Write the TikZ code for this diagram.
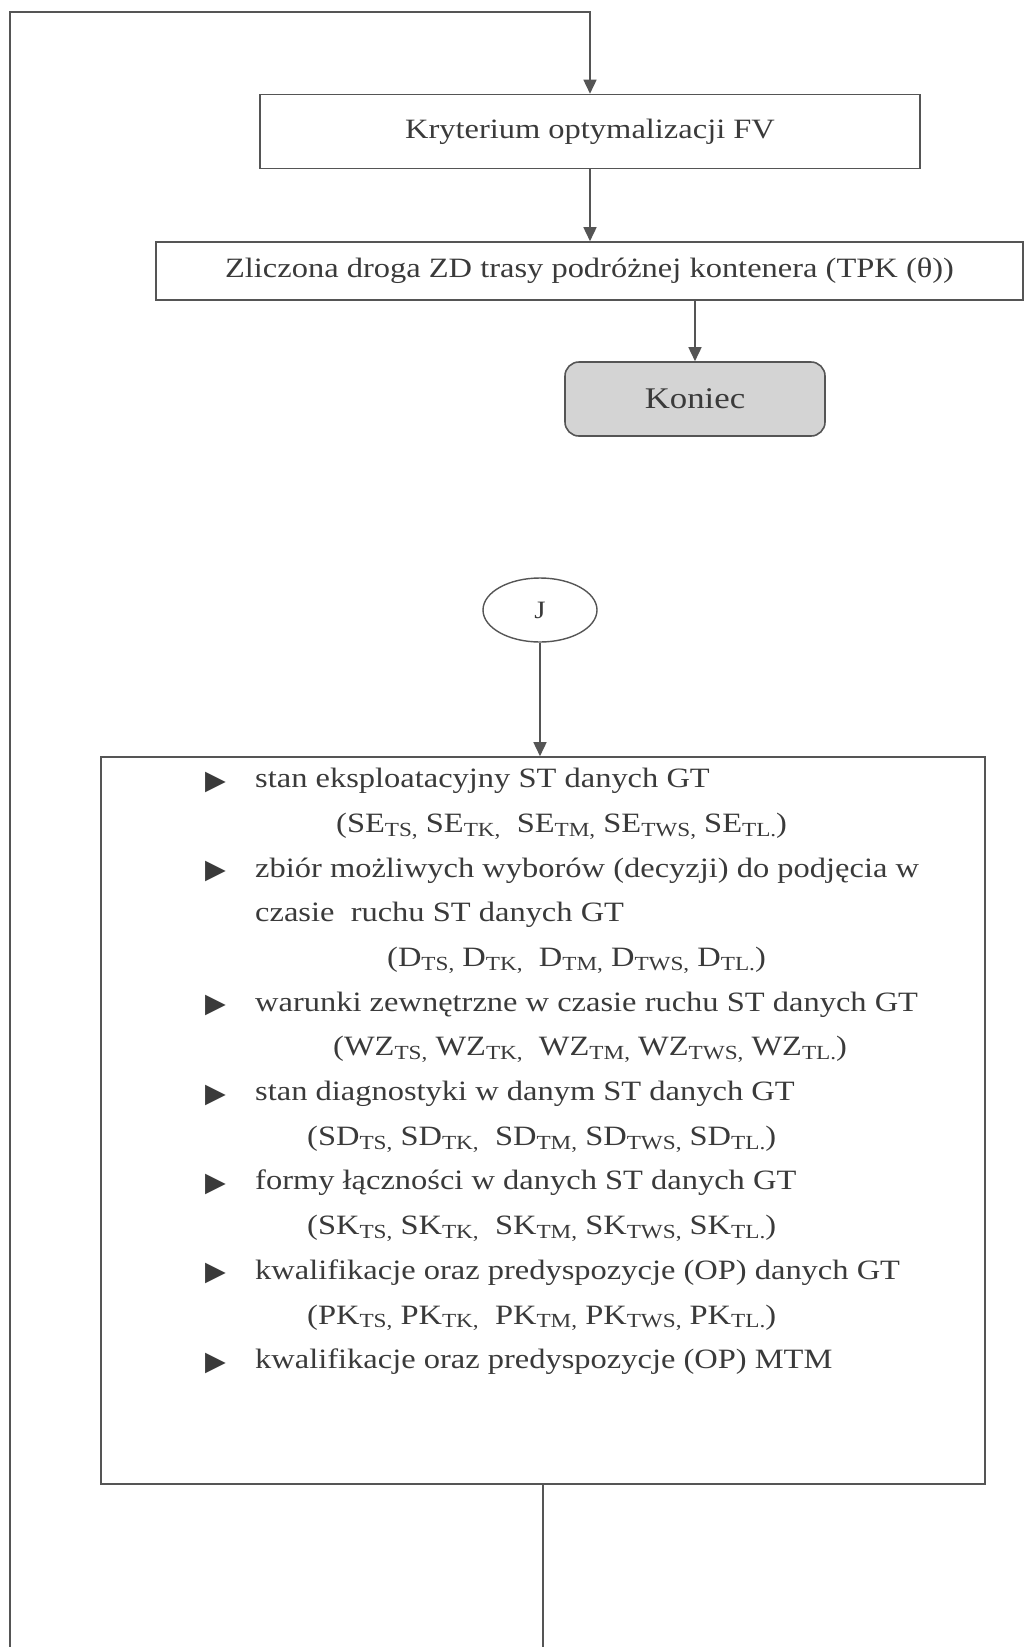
\documentclass[tikz,border=0pt]{standalone}
\usepackage{fontspec}
\setmainfont[FakeStretch=1.16]{Liberation Serif}
\newfontfamily\symfont{DejaVu Sans}
\usetikzlibrary{arrows.meta,shapes.geometric}

\definecolor{inkgray}{HTML}{3A3A3A}
\definecolor{linegray}{HTML}{555555}
\definecolor{endfill}{HTML}{D4D4D4}

\newcommand{\lowidx}[1]{\raisebox{-0.3ex}{\fontsize{20}{20}\selectfont #1}}
\newcommand{\tri}{\makebox[50pt][l]{\raisebox{-1.5pt}{\symfont\fontsize{27}{27}\selectfont ▶}}}

\begin{document}
\begin{tikzpicture}[x=1pt,y=-1pt,>={Triangle[length=14pt,width=13pt]},
  line/.style={draw=linegray,line width=1.6pt},
  procbox/.style={draw=linegray,line width=1.6pt,rectangle,inner sep=0pt,text=inkgray,font=\fontsize{28}{34}\selectfont},
  endbox/.style={procbox,rounded corners=14pt,fill=endfill,font=\fontsize{30}{34}\selectfont},
  connector/.style={draw=linegray,line width=1.4pt,ellipse,inner sep=0pt,minimum width=114pt,minimum height=64pt,text=inkgray,font=\fontsize{25}{28}\selectfont},
  listtext/.style={align=left,inner sep=0pt,text=inkgray,font=\fontsize{28}{44.7}\selectfont}]
\useasboundingbox (0,0) rectangle (1026,1647);

% upper part
\node[procbox,minimum width=660pt,minimum height=74pt] (crit) at (590,131.5) {Kryterium optymalizacji FV};
\node[procbox,minimum width=867pt,minimum height=58pt] (path) at (589.5,271) {Zliczona droga ZD trasy podróżnej kontenera (TPK (θ))};
\node[endbox,minimum width=260pt,minimum height=74pt] (end) at (695,399) {Koniec};

% connector J and parameter box
\node[connector] (J) at (540,610) {J};
\node[procbox,minimum width=884pt,minimum height=727pt] (params) at (543,1120.5) {};
\node[listtext,anchor=north west] (paramtext) at (205,768) {%
\tri stan eksploatacyjny ST danych GT\\
\hspace*{131pt}(SE\lowidx{TS,} SE\lowidx{TK,}\ \ SE\lowidx{TM,} SE\lowidx{TWS,} SE\lowidx{TL.})\\
\tri zbiór możliwych wyborów (decyzji) do podjęcia w\\
\hspace*{50pt}czasie\ \ ruchu ST danych GT\\
\hspace*{182pt}(D\lowidx{TS,} D\lowidx{TK,}\ \ D\lowidx{TM,} D\lowidx{TWS,} D\lowidx{TL.})\\
\tri warunki zewnętrzne w czasie ruchu ST danych GT\\
\hspace*{128pt}(WZ\lowidx{TS,} WZ\lowidx{TK,}\ \ WZ\lowidx{TM,} WZ\lowidx{TWS,} WZ\lowidx{TL.})\\
\tri stan diagnostyki w danym ST danych GT\\
\hspace*{102pt}(SD\lowidx{TS,} SD\lowidx{TK,}\ \ SD\lowidx{TM,} SD\lowidx{TWS,} SD\lowidx{TL.})\\
\tri formy łączności w danych ST danych GT\\
\hspace*{102pt}(SK\lowidx{TS,} SK\lowidx{TK,}\ \ SK\lowidx{TM,} SK\lowidx{TWS,} SK\lowidx{TL.})\\
\tri kwalifikacje oraz predyspozycje (OP) danych GT\\
\hspace*{102pt}(PK\lowidx{TS,} PK\lowidx{TK,}\ \ PK\lowidx{TM,} PK\lowidx{TWS,} PK\lowidx{TL.})\\
\tri kwalifikacje oraz predyspozycje (OP) MTM};

% loop back
\coordinate (loopR) at (543,1647);
\coordinate (loopL) at (10,1647);
\coordinate (loopT) at (10,12);

\draw[line,->] (crit.south) -- (crit.south |- path.north);
\draw[line,->] (end.north |- path.south) -- (end.north);
\draw[line,->] (J.south) -- (J.south |- params.north);
\draw[line] (params.south) -- (loopR);
\draw[line,->] (loopL) -- (loopT) -| (crit.north);
\end{tikzpicture}
\end{document}
